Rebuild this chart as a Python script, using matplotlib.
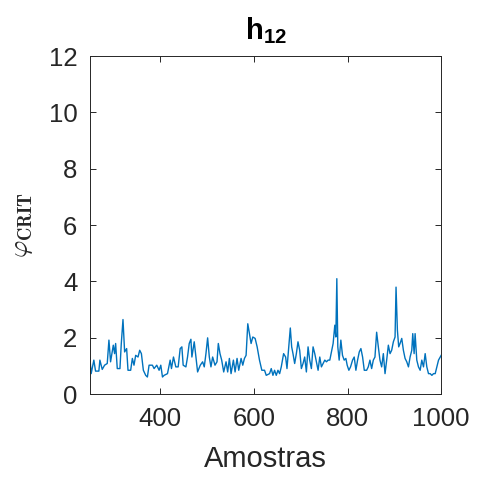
import numpy as np
import matplotlib
matplotlib.use("Agg")
import matplotlib.pyplot as plt

# sample index and phi_CRIT values
samples = [250, 252.8, 258.5, 262.1, 269.2, 271.4, 276.4, 281.4, 287.1, 290.7,
           294.2, 300, 302.8, 305, 308.5, 314.2, 317.1, 320.7, 324.2, 328.5,
           331.4, 337.1, 340.7, 344.2, 347.8, 352.8, 356.4, 360, 364.2, 369.2,
           372.8, 376.4, 383.5, 387.1, 392.8, 397.8, 401.4, 405, 408.5, 415.7,
           421.4, 424.2, 428.5, 433.5, 438.5, 442.8, 446.4, 449.2, 455, 458.5,
           462.1, 465.7, 467.8, 472.8, 476.4, 480, 485.7, 490.7, 494.2, 497.8,
           501.4, 505, 508.5, 512.1, 517.1, 521.4, 524.2, 527.8, 531.4, 535.7,
           540.7, 544.2, 547.8, 551.4, 556.4, 560, 564.2, 567.8, 572.8, 576.4,
           580, 583.5, 587.1, 590.7, 594.2, 597.8, 602.8, 607.1, 612.1, 617.1,
           622.9, 626.5, 633.6, 637.2, 640.8, 644.3, 647.9, 651.5, 655.1, 658.6,
           663.6, 667.9, 670.8, 674.3, 677.9, 680.8, 683.6, 687.2, 690.8, 694.3,
           697.9, 701.5, 705.1, 708.6, 712.2, 715.8, 719.3, 722.9, 726.5, 730.1,
           733.6, 737.2, 740.8, 744.3, 747.9, 751.5, 755.1, 758.6, 762.2, 765.8,
           769.3, 772.9, 775.1, 777.2, 779.3, 782.2, 785.8, 789.3, 792.9, 796.5,
           799.3, 802.9, 806.5, 810.8, 814.3, 817.9, 821.5, 825.1, 828.6, 832.2,
           835.8, 840.8, 844.3, 847.9, 851.5, 855.1, 858.6, 862.2, 865.8, 869.3,
           872.9, 876.5, 880.1, 883.6, 887.2, 890.8, 894.3, 897.9, 901.5, 903.6,
           906.5, 909.3, 912.2, 915.8, 919.3, 922.9, 926.5, 930.1, 933.6, 937.2,
           939.3, 942.2, 944.3, 947.9, 951.5, 955.1, 958.6, 962.2, 965.8, 969.3,
           972.9, 976.5, 980.1, 983.6, 987.2, 990.8, 994.3, 997.9, 1000]
phi = [1.30, 0.73, 1.21, 0.82, 0.82, 1.21, 0.88, 1.03, 1.09, 1.92,
       1.15, 1.74, 1.44, 1.80, 0.91, 0.91, 1.80, 2.65, 1.50, 1.62,
       0.85, 0.85, 1.27, 1.03, 1.38, 1.32, 1.56, 1.44, 0.85, 0.67,
       0.61, 1.03, 1.03, 0.91, 1.03, 0.85, 1.03, 0.61, 0.67, 0.73,
       1.21, 0.91, 1.32, 0.97, 0.97, 1.62, 1.68, 1.03, 0.97, 1.32,
       1.80, 1.95, 1.32, 1.86, 1.32, 0.79, 1.03, 1.15, 0.97, 1.44,
       2.00, 1.32, 0.97, 1.32, 1.03, 1.15, 1.80, 1.44, 1.21, 0.79,
       1.15, 0.79, 1.27, 0.73, 1.21, 0.79, 1.27, 0.85, 1.27, 1.03,
       1.27, 1.38, 2.50, 2.15, 1.80, 2.03, 1.98, 1.68, 1.21, 0.85,
       0.85, 0.67, 0.73, 0.91, 0.67, 0.85, 0.67, 0.85, 0.73, 0.97,
       1.44, 1.32, 0.91, 1.62, 2.35, 1.68, 1.44, 1.09, 1.44, 1.86,
       1.56, 0.91, 1.09, 1.32, 0.79, 1.68, 1.21, 0.91, 1.68, 1.44,
       1.15, 0.85, 1.32, 0.97, 1.09, 1.21, 1.15, 1.21, 1.21, 1.50,
       1.80, 2.45, 2.03, 4.10, 1.68, 1.21, 1.92, 1.38, 1.21, 1.27,
       1.03, 0.85, 0.97, 1.21, 1.32, 0.85, 1.21, 1.50, 1.62, 1.32,
       0.85, 0.85, 0.97, 1.21, 0.91, 1.21, 1.32, 2.20, 1.68, 1.21,
       0.97, 1.44, 0.73, 1.21, 1.74, 1.44, 1.56, 1.86, 2.03, 3.80,
       2.27, 1.68, 1.80, 1.98, 1.56, 1.27, 1.15, 0.97, 1.32, 1.56,
       2.15, 1.44, 2.15, 1.21, 0.97, 0.85, 1.21, 0.97, 1.44, 0.97,
       0.73, 0.73, 0.67, 0.73, 0.73, 0.97, 1.21, 1.32, 1.38]

xticks = [400, 600, 800, 1000]
yticks = [0, 2, 4, 6, 8, 10, 12]

plt.rcParams['font.family'] = ['Liberation Sans', 'DejaVu Sans']
plt.rcParams['mathtext.fontset'] = 'cm'
plt.rcParams['mathtext.bf'] = 'Liberation Sans:bold'
plt.rcParams['mathtext.rm'] = 'Liberation Sans'

fig = plt.figure(figsize=(4.78, 4.79), dpi=100)
ax = fig.add_axes([0.188, 0.177, 0.735, 0.706])
ax.plot(samples, phi, color='#0072BD', lw=1.0)

ax.set_xlim(250, 1000)
ax.set_ylim(0, 12)
ax.set_xticks(xticks)
ax.set_yticks(yticks)
grey = '#262626'
ax.tick_params(direction='in', top=True, right=True, length=4, width=0.7,
               labelsize=18.5, colors=grey, pad=9)
for s in ax.spines.values():
    s.set_color(grey)
    s.set_linewidth(0.7)

ax.set_xlabel('Amostras', fontsize=21, color=grey, labelpad=10)
ax.set_ylabel(r'$\varphi_{\mathbf{CRIT}}$', fontsize=19, color=grey, labelpad=10)
ax.set_title(r'$\mathbf{h_{12}}$', fontsize=21, pad=12, math_fontfamily='custom')

fig.savefig('out.png', dpi=100)
